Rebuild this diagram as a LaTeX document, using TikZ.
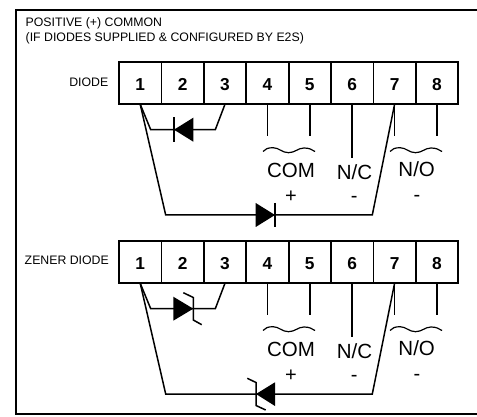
\documentclass[tikz,border=0pt]{standalone}
\usepackage{fontspec}
\setmainfont{Liberation Sans}
\usetikzlibrary{positioning, calc}

\tikzset{
    terminal/.style={draw, line width=1.8pt, minimum width=42.4pt, minimum height=42.4pt, inner sep=0pt, outer sep=0pt, text height=15.5pt, font=\fontsize{17.3}{18}\selectfont\bfseries},
    wire/.style={line width=1.5pt},
    wave/.style={line width=1.2pt},
    heading/.style={inner sep=0pt, font=\fontsize{12.3}{14.6}\selectfont},
    biglabel/.style={inner sep=0pt, font=\fontsize{20.5}{22}\selectfont},
    signlabel/.style={inner sep=0pt, font=\fontsize{20}{22}\selectfont}
}

\begin{document}
\begin{tikzpicture}[x=1pt, y=-1pt]
        \useasboundingbox (0,0) rectangle (477,417);

        % Outer frame, open on the right
        \draw[line width=2pt] (477,10) -- (15.5,10) -- (15.5,414) -- (477,414);

        % Title and row names
        \node[heading, align=left, anchor=west] (title) at (25.5,31) {POSITIVE (+) COMMON\\(IF DIODES SUPPLIED \& CONFIGURED BY E2S)};
        \node[heading, anchor=east] (diodename) at (108.5,82.7) {DIODE};
        \node[heading, anchor=east] (zenername) at (109,260) {ZENER DIODE};

        % 1. Both terminal rows with their leads and labels
        \foreach \blk/\yy in {a/0, b/179} {
            \foreach \i in {1,...,8} {
                \node[terminal] (\blk\i) at (140.2+\i*42.4-42.4, 83+\yy) {\i};
            }
            \foreach \i/\len in {4/31.7, 5/31.7, 6/53.7, 7/31.7, 8/31.7} {
                \draw[wire] (\blk\i.south) -- ++(0,\len) coordinate (\blk\i end);
            }

            % Wavy brackets under the leads
            \foreach \xx in {0, 127} {
                \draw[wave] (263+\xx,151.5+\yy) .. controls (265+\xx,149+\yy) and (268+\xx,147.7+\yy) .. (273+\xx,147.7+\yy)
                    .. controls (279+\xx,147.7+\yy) and (282+\xx,152.7+\yy) .. (288.5+\xx,152.7+\yy)
                    .. controls (295+\xx,152.7+\yy) and (298+\xx,148+\yy) .. (304+\xx,148+\yy)
                    .. controls (309+\xx,148+\yy) and (312+\xx,149.5+\yy) .. (315+\xx,151.5+\yy);
            }

            \node[biglabel] (\blk com) at (291,170+\yy) {COM};
            \node[signlabel] (\blk plus) at (291,197+\yy) {+};
            \node[biglabel] (\blk nc) at (354.5,171.7+\yy) {N/C};
            \node[signlabel] (\blk ncsign) at (354.3,199.5+\yy) {-};
            \node[biglabel] (\blk no) at (416.7,169.3+\yy) {N/O};
            \node[signlabel] (\blk nosign) at (417,198.5+\yy) {-};

            % Wires 1-3 and 1-7, diodes sit on top
            \coordinate (\blk sl) at (150.7,129.7+\yy);
            \coordinate (\blk sr) at (215.3,129.7+\yy);
            \coordinate (\blk ll) at (165.7,215+\yy);
            \coordinate (\blk lr) at (372.3,215+\yy);
            \draw[wire] (\blk1.south) -- (\blk sl) -- (\blk sr) -- (\blk3.south);
            \draw[wire] (\blk1.south) -- (\blk ll) -- (\blk lr) -- (\blk7.south);
        }

        % 2. Plain diodes
        \fill (174,129.7) -- (193.3,117.7) -- (193.3,141.7) -- cycle;
        \draw[wire] (174,117.5) -- (174,142);
        \fill (275,215) -- (255.7,203) -- (255.7,227) -- cycle;
        \draw[wire] (275,203) -- (275,227);

        % 3. Zener diodes
        \fill (193.3,308.7) -- (173.3,296.7) -- (173.3,320.7) -- cycle;
        \draw[wire] (183.3,292.7) -- (193.3,297.5) -- (193.3,320) -- (201.7,324.7);
        \fill (256,394) -- (275,382.3) -- (275,406) -- cycle;
        \draw[wire] (247.3,378.3) -- (256,382.5) -- (256,405.5) -- (265.7,410);
\end{tikzpicture}
\end{document}
